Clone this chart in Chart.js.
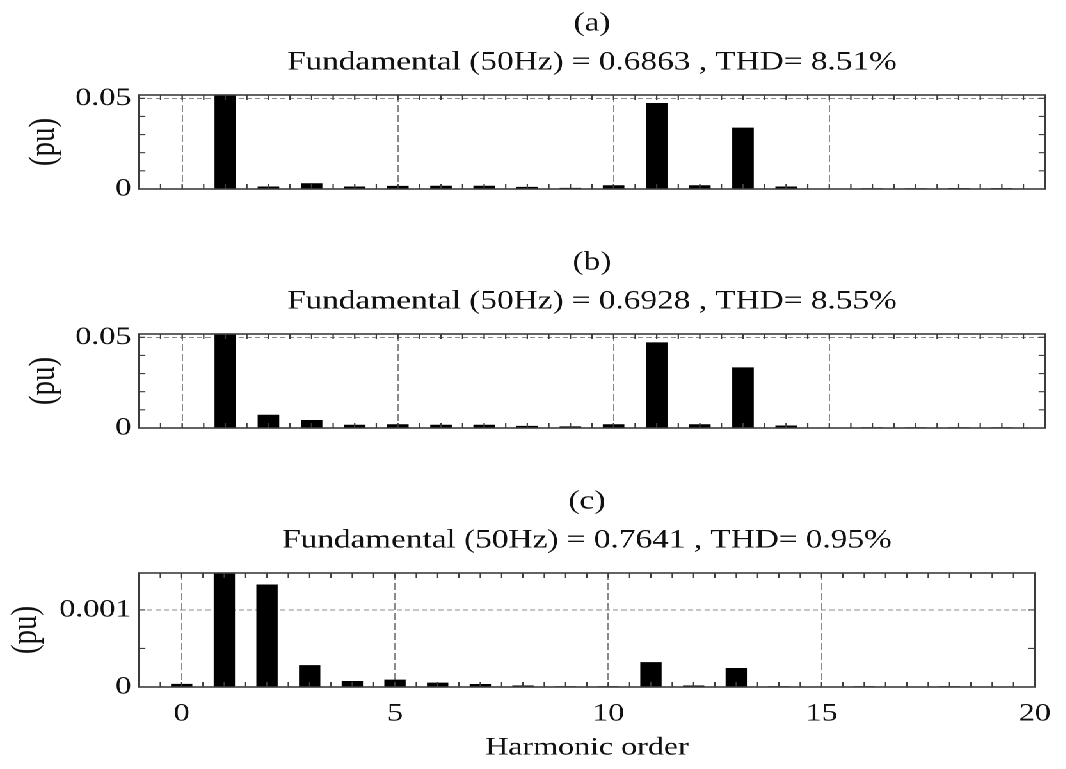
<!DOCTYPE html>
<html>
<head>
<meta charset="utf-8">
<script src="https://cdn.jsdelivr.net/npm/chart.js@4"></script>
<style>
  html, body { margin: 0; padding: 0; background: #fff; overflow: hidden; }
  /* the spectra are laid out narrow and widened afterwards */
  #wrap { position: relative; width: 833px; height: 769px; transform: scaleX(1.28); transform-origin: 0 0; }
  #wrap canvas { position: absolute; left: 0; }
</style>
</head>
<body>
<div id="wrap">
  <canvas id="specA" width="833" height="210" style="top:0px"></canvas>
  <canvas id="specB" width="833" height="210" style="top:239px"></canvas>
  <canvas id="specC" width="833" height="291" style="top:478px"></canvas>
</div>
<script>
// harmonic orders 0..19, magnitudes in pu (order 1 is the fundamental)
const harmonicOrder = [0, 1, 2, 3, 4, 5, 6, 7, 8, 9, 10, 11, 12, 13, 14, 15, 16, 17, 18, 19];
const magA = [0, 0.6863, 0.0014, 0.0032, 0.0014, 0.0017, 0.0018, 0.0018, 0.0012, 0.0006,
              0.0021, 0.0474, 0.0021, 0.0338, 0.0014, 0.0003, 0.0004, 0.0004, 0.0005, 0.0005];
const magB = [0, 0.6928, 0.0073, 0.0044, 0.0018, 0.0021, 0.0018, 0.0018, 0.0012, 0.0009,
              0.0021, 0.0472, 0.0021, 0.0334, 0.0014, 0.0003, 0.0004, 0.0004, 0.0004, 0.0004];
const magC = [0.00004, 0.7641, 0.00133, 0.000284, 0.000078, 0.000095, 0.000056, 0.000039, 0.00002, 0.00001,
              0.00001, 0.000323, 0.00002, 0.000246, 0.00001, 0, 0.00001, 0, 0.00001, 0];

const titleA = ['(a)', 'Fundamental (50Hz) = 0.6863 , THD= 8.51%'];
const titleB = ['(b)', 'Fundamental (50Hz) = 0.6928 , THD= 8.55%'];
const titleC = ['(c)', 'Fundamental (50Hz) = 0.7641 , THD= 0.95%'];

const xTicks = [0, 5, 10, 15, 20];
const yTicksAB = [0, 0.05];
const yTicksC = [0, 0.001];

const FONT = "'Liberation Serif', 'Times New Roman', serif";
const INK = '#111';

// box + small inward ticks on all four sides
const framePlugin = {
    id: 'frame',
    afterDatasetsDraw(chart, args, opts) {
        const { ctx, chartArea: a, scales: { x, y } } = chart;
        ctx.save();
        ctx.strokeStyle = '#3c3c3c';
        ctx.lineWidth = 1.1;
        ctx.beginPath();
        const nx = Math.round((x.max - x.min) / opts.xMinor);
        for (let i = 0; i <= nx; i++) {
            const px = x.getPixelForValue(x.min + i * opts.xMinor);
            ctx.moveTo(px, a.bottom); ctx.lineTo(px, a.bottom - 5);
            ctx.moveTo(px, a.top); ctx.lineTo(px, a.top + 5);
        }
        const ny = Math.floor(y.max / opts.yMinor + 1e-6);
        for (let i = 0; i <= ny; i++) {
            const py = y.getPixelForValue(i * opts.yMinor);
            ctx.moveTo(a.left, py); ctx.lineTo(a.left + 5, py);
            ctx.moveTo(a.right, py); ctx.lineTo(a.right - 5, py);
        }
        ctx.stroke();
        ctx.lineWidth = 1.6;
        ctx.strokeRect(a.left, a.top, a.right - a.left, a.bottom - a.top);
        ctx.restore();
    }
};

function makeSpectrum(id, values, title, yTicks, yMax, yMinor, opt) {
    const grid = {
        color: '#8a8a8a',
        lineWidth: 1,
        drawTicks: false,
        offset: false
    };
    return new Chart(document.getElementById(id), {
        type: 'bar',
        data: {
            datasets: [{
                data: harmonicOrder.map((h, i) => ({ x: h, y: values[i] })),
                backgroundColor: '#000',
                borderWidth: 0,
                barPercentage: 0.5,
                categoryPercentage: 1
            }]
        },
        options: {
            responsive: false,
            animation: false,
            devicePixelRatio: 2,
            layout: { padding: { left: 0, right: 16.6, top: 0, bottom: 0 } },
            scales: {
                x: {
                    type: 'linear',
                    min: -1,
                    max: 20,
                    offset: false,
                    grid: grid,
                    border: { display: false, dash: [7, 3] },
                    afterBuildTicks: s => { s.ticks = xTicks.map(v => ({ value: v })); },
                    afterFit: s => { s.height = opt.xHeight; },
                    ticks: {
                        display: opt.xLabels,
                        padding: 12,
                        maxRotation: 0,
                        color: INK,
                        font: { family: FONT, size: 25 }
                    },
                    title: {
                        display: opt.xLabels,
                        text: 'Harmonic order',
                        color: INK,
                        padding: { top: 0, bottom: 6 },
                        font: { family: FONT, size: 25 }
                    }
                },
                y: {
                    min: 0,
                    max: yMax,
                    grid: grid,
                    border: { display: false, dash: [4, 2.5] },
                    afterBuildTicks: s => { s.ticks = yTicks.map(v => ({ value: v })); },
                    afterFit: s => { s.width = 108.6; },
                    ticks: {
                        padding: 6,
                        color: INK,
                        font: { family: FONT, size: 25 },
                        callback: v => String(v)
                    },
                    title: {
                        display: true,
                        text: '(pu)',
                        color: INK,
                        padding: { top: opt.yTitlePad, bottom: 0 },
                        font: { family: FONT, size: 29 }
                    }
                }
            },
            plugins: {
                legend: { display: false },
                tooltip: { enabled: false },
                title: {
                    display: true,
                    fullSize: false,
                    text: title,
                    color: INK,
                    font: { family: FONT, size: 26, weight: 'normal', lineHeight: 1.5 },
                    padding: { top: 4, bottom: 13 }
                },
                frame: { xMinor: 0.5, yMinor: yMinor }
            }
        },
        plugins: [framePlugin]
    });
}

makeSpectrum('specA', magA, titleA, yTicksAB, 0.0518, 0.01, { xHeight: 2, xLabels: false, yTitlePad: 17 });
makeSpectrum('specB', magB, titleB, yTicksAB, 0.0518, 0.01, { xHeight: 2, xLabels: false, yTitlePad: 17 });
makeSpectrum('specC', magC, titleC, yTicksC, 0.00148, 0.0005, { xHeight: 82, xLabels: true, yTitlePad: 3 });
</script>
</body>
</html>
